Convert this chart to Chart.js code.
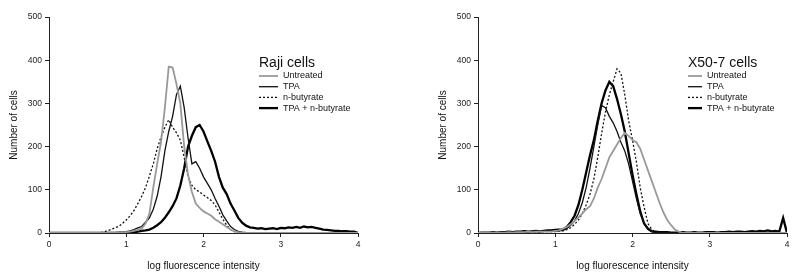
<!DOCTYPE html>
<html>
<head>
  <meta charset="UTF-8">
  <title>Flow histograms</title>
  <script src="https://cdn.jsdelivr.net/npm/chart.js@4"></script>
  <style>
    body { margin: 0; background: #fff; }
    #wrap { width: 800px; height: 280px; position: relative; }
    canvas { position: absolute; top: 0; }
  </style>
</head>
<body>
<div id="wrap">
  <canvas id="cRaji" width="400" height="280" style="left:0"></canvas>
  <canvas id="cX50" width="400" height="280" style="left:400px"></canvas>
</div>
<script>
// log fluorescence bins, 0.0 .. 4.0 in steps of 0.05
const bins = [0.00,0.05,0.10,0.15,0.20,0.25,0.30,0.35,0.40,0.45,
  0.50,0.55,0.60,0.65,0.70,0.75,0.80,0.85,0.90,0.95,
  1.00,1.05,1.10,1.15,1.20,1.25,1.30,1.35,1.40,1.45,
  1.50,1.55,1.60,1.65,1.70,1.75,1.80,1.85,1.90,1.95,
  2.00,2.05,2.10,2.15,2.20,2.25,2.30,2.35,2.40,2.45,
  2.50,2.55,2.60,2.65,2.70,2.75,2.80,2.85,2.90,2.95,
  3.00,3.05,3.10,3.15,3.20,3.25,3.30,3.35,3.40,3.45,
  3.50,3.55,3.60,3.65,3.70,3.75,3.80,3.85,3.90,3.95,
  4.00];

const labels = ['Untreated', 'TPA', 'n-butyrate', 'TPA + n-butyrate'];
const xTicks = [0, 1, 2, 3, 4];
const yTicks = [0, 100, 200, 300, 400, 500];

// Raji cells
const rajiUntreated = [0,0,0,0,0,0,0,0,0,0,
  0,0,0,0,0,0,1,1,1,2,
  2,3,5,7,10,22,45,105,160,210,
  290,385,383,345,300,200,135,95,68,58,
  50,45,40,32,26,20,14,8,4,2,
  1,0,0,0,0,0,0,0,0,0,
  0,0,0,0,0,0,0,0,0,0,
  0,0,0,0,0,0,0,0,0,0,
  0];
const rajiTPA = [0,0,0,0,0,0,0,0,0,0,
  0,0,0,0,0,0,0,1,1,2,
  3,5,8,12,15,25,35,55,85,130,
  190,235,270,320,340,290,220,160,165,150,
  130,115,100,80,62,42,28,15,8,4,
  2,1,0,0,0,0,0,0,0,0,
  0,0,0,0,0,0,0,0,0,0,
  0,0,0,0,0,0,0,0,0,0,
  0];
const rajiButyrate = [0,0,0,0,0,0,0,0,0,0,
  0,0,0,0,2,5,8,12,15,22,
  30,40,52,68,85,105,132,160,195,222,
  245,262,245,232,215,175,130,110,100,95,
  88,82,75,65,48,32,18,8,3,1,
  0,0,0,0,0,0,0,0,0,0,
  0,0,0,0,0,0,0,0,0,0,
  0,0,0,0,0,0,0,0,0,0,
  0];
const rajiBoth = [0,0,0,0,0,0,0,0,0,0,
  0,0,0,0,0,0,0,0,1,1,
  1,2,2,3,5,6,8,12,18,25,
  35,48,62,80,110,150,200,225,245,250,
  235,212,190,165,130,105,90,68,52,35,
  24,17,13,12,10,11,9,10,11,9,
  12,11,13,12,14,12,15,13,14,12,
  10,8,7,6,5,5,4,4,3,3,
  0];

// X50-7 cells
const x50Untreated = [0,1,1,0,1,1,1,1,2,1,
  2,2,2,3,2,3,3,3,3,3,
  5,6,10,14,20,28,36,45,55,62,
  80,105,125,150,175,190,205,220,232,225,
  215,210,195,170,145,120,95,70,48,30,
  18,8,3,0,0,0,0,0,0,0,
  0,0,0,0,0,0,0,0,0,0,
  0,0,0,0,0,0,0,0,0,0,
  0];
const x50TPA = [0,1,1,1,1,1,2,1,2,2,
  2,3,2,3,3,4,3,4,4,5,
  4,5,6,10,18,28,45,70,105,150,
  200,250,295,290,270,255,235,210,190,160,
  120,80,45,22,8,3,1,1,1,1,
  1,1,1,1,1,1,1,1,1,1,
  1,1,1,1,1,1,1,1,1,1,
  1,1,1,1,1,1,1,1,1,1,
  0];
const x50Butyrate = [0,0,1,0,1,1,1,1,1,2,
  1,2,2,2,2,3,2,3,3,3,
  3,4,5,8,12,20,30,45,65,90,
  125,175,230,280,320,350,380,370,320,260,
  215,165,105,60,22,8,3,1,0,0,
  0,0,0,0,0,0,0,0,0,0,
  0,0,0,0,0,0,0,0,0,0,
  0,0,0,0,0,0,0,0,0,0,
  0];
const x50Both = [0,1,1,1,2,1,2,2,3,2,
  3,3,4,3,4,5,4,5,6,6,
  7,8,8,14,25,40,65,100,140,180,
  215,260,300,330,350,340,310,275,235,185,
  135,90,50,22,10,4,3,2,2,2,
  1,1,1,2,1,1,2,1,1,2,
  2,2,1,2,2,3,2,3,3,2,
  3,4,3,5,4,6,4,5,3,35,
  0];

const FONT = "'Liberation Sans', Arial, sans-serif";
const styles = [
  { borderColor: '#999999', borderWidth: 1.8, borderDash: [] },
  { borderColor: '#111', borderWidth: 1.3, borderDash: [] },
  { borderColor: '#111', borderWidth: 1.3, borderDash: [2, 2] },
  { borderColor: '#000', borderWidth: 2.3, borderDash: [] }
];

function series(vals) {
  return bins.map((x, i) => ({ x: x, y: vals[i] }));
}

const legendBox = {
  id: 'legendBox',
  afterDraw(chart, args, opts) {
    const ctx = chart.ctx;
    ctx.save();
    ctx.fillStyle = '#111';
    ctx.textBaseline = 'middle';
    ctx.font = '14px ' + FONT;
    ctx.fillText(opts.title, opts.x, 63);
    ctx.font = '9px ' + FONT;
    chart.data.datasets.forEach((ds, i) => {
      const y = 76 + i * 10.7;
      ctx.beginPath();
      ctx.strokeStyle = ds.borderColor;
      ctx.lineWidth = ds.borderWidth;
      ctx.setLineDash(ds.borderDash || []);
      ctx.moveTo(opts.x, y);
      ctx.lineTo(opts.x + opts.len, y);
      ctx.stroke();
      ctx.setLineDash([]);
      ctx.fillText(ds.label, opts.x + opts.len + 5, y);
    });
    ctx.restore();
  }
};

function makeChart(id, title, data, padLeft, padRight, legX, legLen) {
  const datasets = data.map((vals, i) => Object.assign({
    label: labels[i],
    data: series(vals),
    pointRadius: 0,
    fill: false,
    tension: 0
  }, styles[i]));
  return new Chart(document.getElementById(id), {
    type: 'line',
    data: { datasets: datasets },
    plugins: [legendBox],
    options: {
      responsive: false,
      animation: false,
      layout: { padding: { left: padLeft, right: padRight, top: 17, bottom: 0 } },
      plugins: {
        legend: { display: false },
        tooltip: { enabled: false },
        legendBox: { title: title, x: legX, len: legLen }
      },
      scales: {
        x: {
          type: 'linear', min: 0, max: 4,
          afterBuildTicks: s => { s.ticks = xTicks.map(v => ({ value: v })); },
          afterFit: s => { s.height = 47; },
          grid: { drawOnChartArea: false, drawTicks: true, tickLength: 4, color: '#222' },
          border: { color: '#222', width: 1 },
          ticks: { color: '#222', font: { family: FONT, size: 8.5 }, padding: 3, maxRotation: 0 },
          title: { display: true, text: 'log fluorescence intensity', color: '#111',
                   font: { family: FONT, size: 10 }, padding: { top: 4, bottom: 8 } }
        },
        y: {
          min: 0, max: 500,
          afterBuildTicks: s => { s.ticks = yTicks.map(v => ({ value: v })); },
          afterFit: s => { s.width = 49; },
          grid: { drawOnChartArea: false, drawTicks: true, tickLength: 4, color: '#222' },
          border: { color: '#222', width: 1 },
          ticks: { color: '#222', font: { family: FONT, size: 8.5 }, padding: 3 },
          title: { display: true, text: 'Number of cells', color: '#111',
                   font: { family: FONT, size: 10 }, padding: { top: 8, bottom: 4 } }
        }
      }
    }
  });
}

makeChart('cRaji', 'Raji cells', [rajiUntreated, rajiTPA, rajiButyrate, rajiBoth], 0, 42, 259, 19);
makeChart('cX50', 'X50-7 cells', [x50Untreated, x50TPA, x50Butyrate, x50Both], 29, 13, 288, 14);
</script>
</body>
</html>
